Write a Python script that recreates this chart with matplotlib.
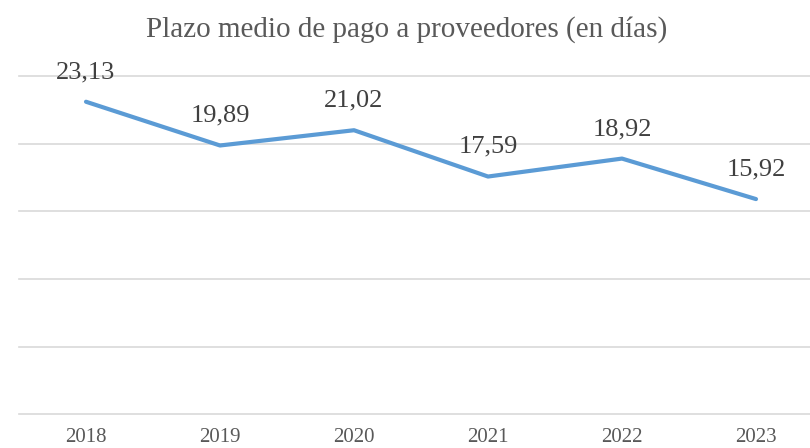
import matplotlib.pyplot as plt

years = ["2018", "2019", "2020", "2021", "2022", "2023"]
days = [23.13, 19.89, 21.02, 17.59, 18.92, 15.92]
y_ticks = [0, 5, 10, 15, 20, 25]

plt.rcParams['font.family'] = ['Liberation Serif', 'DejaVu Serif']

fig = plt.figure(figsize=(8.1, 4.48), dpi=100)
# plot area runs past the right edge like in the original export
ax = fig.add_axes([19 / 810, 34 / 448, 804 / 810, 337.5 / 448])

x = list(range(len(years)))
ax.plot(x, days, color="#5B9BD5", linewidth=3, solid_capstyle="round", zorder=3)

for xi, v in zip(x, days):
    ax.annotate(f"{v:.2f}".replace(".", ","), (xi, v), xytext=(0, 17),
                textcoords="offset points", ha="center", va="baseline",
                fontsize=19, color="#404040")

ax.set_xlim(-0.5, len(years) - 0.5)
ax.set_ylim(0, 25)
ax.set_yticks(y_ticks)
ax.set_yticklabels([])
ax.set_xticks(x)
ax.set_xticklabels(years, fontsize=15, color="#595959")
ax.tick_params(axis="both", length=0)
ax.tick_params(axis="x", pad=10)
ax.grid(axis="y", color="#D9D9D9", linewidth=1.2)
for line in ax.get_ygridlines():
    line.set_clip_on(False)
for s in ax.spines.values():
    s.set_visible(False)

fig.text(0.502, 0.935, "Plazo medio de pago a proveedores (en días)",
         ha="center", va="center", fontsize=21, color="#595959")

fig.savefig("out.png", dpi=100)
